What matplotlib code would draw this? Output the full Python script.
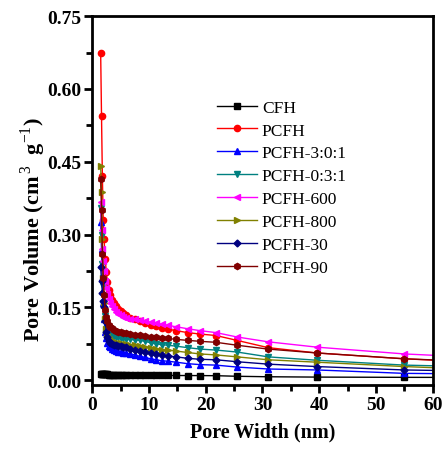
import numpy as np
import matplotlib
matplotlib.use("Agg")
import matplotlib.pyplot as plt
from matplotlib.ticker import MultipleLocator

plt.rcParams['font.family'] = ['Liberation Serif', 'DejaVu Serif']
plt.rcParams['mathtext.fontset'] = 'custom'
plt.rcParams['mathtext.rm'] = 'Liberation Serif'
plt.rcParams['mathtext.bf'] = 'Liberation Serif:bold'

# pore width grid (nm)
width = [1.5, 1.65, 1.8, 1.95, 2.1, 2.3, 2.5, 2.7, 2.95, 3.2, 3.5, 3.85, 4.2, 4.6, 5.0,
         5.5, 6.0, 6.7, 7.5, 8.4, 9.3, 10.3, 11.3, 12.3, 13.3, 14.8, 16.8, 19.0, 21.8,
         25.5, 31.0, 39.6, 55.0, 66.0]

cfh = [0.012, 0.012, 0.012, 0.012, 0.012, 0.012, 0.0118, 0.0117, 0.0116, 0.0115, 0.0114,
       0.0113, 0.0112, 0.0111, 0.0110, 0.0109, 0.0108, 0.0106, 0.0104, 0.0102, 0.0101,
       0.0100, 0.0099, 0.0098, 0.0097, 0.0096, 0.0095, 0.0094, 0.0092, 0.0080, 0.0070,
       0.0063, 0.0058, 0.0056]
pcfh = [0.675, 0.545, 0.42, 0.33, 0.29, 0.25, 0.222, 0.203, 0.186, 0.175, 0.166, 0.158,
        0.153, 0.147, 0.142, 0.138, 0.134, 0.129, 0.125, 0.122, 0.118, 0.114, 0.111,
        0.108, 0.105, 0.102, 0.098, 0.095, 0.092, 0.082, 0.067, 0.056, 0.044, 0.038]
pcfh_301 = [0.325, 0.27, 0.21, 0.16, 0.125, 0.100, 0.086, 0.077, 0.071, 0.068, 0.065,
            0.062, 0.060, 0.058, 0.057, 0.056, 0.055, 0.054, 0.052, 0.049, 0.047, 0.044,
            0.042, 0.040, 0.039, 0.037, 0.034, 0.032, 0.031, 0.027, 0.023, 0.021, 0.014,
            0.013]
pcfh_031 = [0.355, 0.30, 0.24, 0.195, 0.16, 0.132, 0.116, 0.106, 0.099, 0.095, 0.092,
            0.090, 0.089, 0.088, 0.087, 0.086, 0.085, 0.084, 0.083, 0.082, 0.080, 0.077,
            0.075, 0.073, 0.072, 0.070, 0.067, 0.064, 0.062, 0.058, 0.048, 0.041, 0.031,
            0.028]
pcfh_600 = [0.367, 0.31, 0.27, 0.245, 0.225, 0.205, 0.19, 0.178, 0.168, 0.160, 0.153,
            0.146, 0.141, 0.137, 0.134, 0.131, 0.129, 0.127, 0.125, 0.123, 0.121, 0.119,
            0.117, 0.115, 0.113, 0.110, 0.106, 0.102, 0.098, 0.089, 0.079, 0.068, 0.054,
            0.048]
pcfh_800 = [0.442, 0.388, 0.29, 0.21, 0.16, 0.125, 0.106, 0.095, 0.088, 0.084, 0.081,
            0.079, 0.078, 0.077, 0.076, 0.075, 0.074, 0.073, 0.072, 0.071, 0.069, 0.067,
            0.065, 0.063, 0.062, 0.060, 0.057, 0.054, 0.052, 0.048, 0.042, 0.037, 0.028,
            0.023]
pcfh_30 = [0.234, 0.205, 0.18, 0.163, 0.150, 0.121, 0.100, 0.088, 0.081, 0.077, 0.075,
           0.073, 0.072, 0.071, 0.070, 0.069, 0.068, 0.065, 0.062, 0.060, 0.057, 0.055,
           0.053, 0.051, 0.050, 0.048, 0.045, 0.043, 0.042, 0.038, 0.033, 0.028, 0.021,
           0.019]
pcfh_90 = [0.415, 0.35, 0.26, 0.21, 0.175, 0.145, 0.131, 0.121, 0.114, 0.110, 0.107,
           0.104, 0.102, 0.100, 0.099, 0.098, 0.097, 0.095, 0.094, 0.093, 0.091, 0.089,
           0.088, 0.087, 0.086, 0.084, 0.082, 0.080, 0.078, 0.072, 0.064, 0.056, 0.044,
           0.039]

series = [
    ("CFH", cfh, "#000000", "s"),
    ("PCFH", pcfh, "#FF0000", "o"),
    ("PCFH-3:0:1", pcfh_301, "#0000FF", "^"),
    ("PCFH-0:3:1", pcfh_031, "#008080", "v"),
    ("PCFH-600", pcfh_600, "#FF00FF", "<"),
    ("PCFH-800", pcfh_800, "#808000", ">"),
    ("PCFH-30", pcfh_30, "#000080", "D"),
    ("PCFH-90", pcfh_90, "#800000", "h"),
]

fig = plt.figure(figsize=(4.43, 4.52), dpi=100)
ax = fig.add_axes([0.208, 0.146, 0.769, 0.816])

for name, vals, col, mk in series:
    ms = 3.5 if mk == "D" else 4.5
    ax.plot(width, vals, color=col, marker=mk, markersize=ms, linewidth=1.0, label=name)

ax.set_xlim(0, 60)
ax.set_ylim(-0.01, 0.75)
ax.xaxis.set_major_locator(MultipleLocator(10))
ax.xaxis.set_minor_locator(MultipleLocator(5))
ax.yaxis.set_major_locator(MultipleLocator(0.15))
ax.yaxis.set_minor_locator(MultipleLocator(0.075))
ax.yaxis.set_major_formatter(plt.FormatStrFormatter('%.2f'))

for s in ax.spines.values():
    s.set_linewidth(2)
ax.tick_params(which='both', direction='out', top=False, right=False, width=2)
ax.tick_params(which='major', length=6, labelsize=14, pad=2)
ax.tick_params(which='minor', length=4)
for lab in ax.get_xticklabels() + ax.get_yticklabels():
    lab.set_fontweight('bold')

ax.set_xlabel("Pore Width (nm)", fontsize=14.5, fontweight='bold', labelpad=6)
ax.set_ylabel(r"Pore Volume (cm$^{\,\mathrm{3}}$  g$^{\mathrm{-1}}$)", fontsize=16,
              fontweight='bold')
ax.yaxis.set_label_coords(-0.13, 0.424)

ax.legend(loc='upper left', bbox_to_anchor=(0.345, 0.793), frameon=False, fontsize=12.5,
          handlelength=2.3, labelspacing=0.39, handletextpad=0.3, borderaxespad=0)

fig.savefig("out.png", dpi=100)
